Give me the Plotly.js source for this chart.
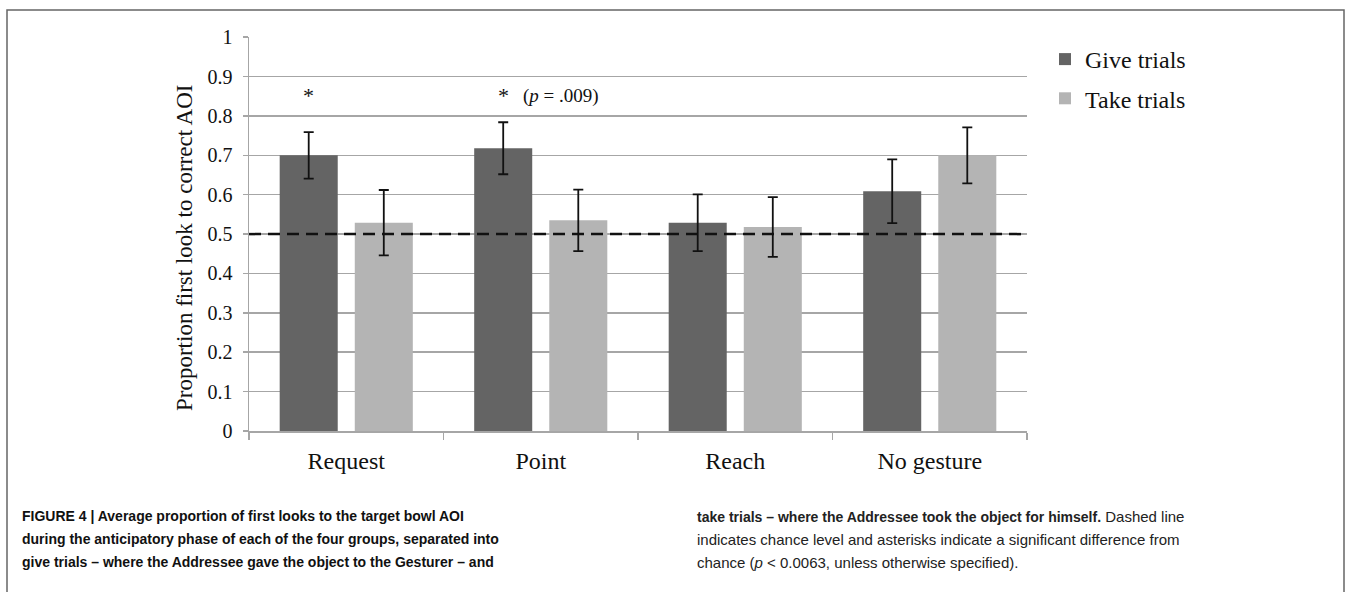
<!DOCTYPE html>
<html>
<head>
<meta charset="utf-8">
<script src="https://cdn.plot.ly/plotly-3.0.1.min.js"></script>
<style>
  html, body { margin: 0; padding: 0; background: #fff; }
  #chart { width: 1350px; height: 592px; }
</style>
</head>
<body>
<div id="chart"></div>
<script>
// ---- data ----
const categories = ["Request", "Point", "Reach", "No gesture"];
const giveValues = [0.700, 0.718, 0.529, 0.609];
const giveErrors = [0.059, 0.066, 0.072, 0.081];
const takeValues = [0.529, 0.535, 0.518, 0.700];
const takeErrors = [0.083, 0.078, 0.076, 0.071];
const seriesNames = ["Give trials", "Take trials"];
const yTickValues = [0, 0.1, 0.2, 0.3, 0.4, 0.5, 0.6, 0.7, 0.8, 0.9, 1];
const yTickLabels = ["0", "0.1", "0.2", "0.3", "0.4", "0.5", "0.6", "0.7", "0.8", "0.9", "1"];
const chanceLevel = 0.5;
const yTitle = "Proportion first look to correct AOI";
const captionLeft = [
  "<b>FIGURE 4 | Average proportion of first looks to the target bowl AOI</b>",
  "<b>during the anticipatory phase of each of the four groups, separated into</b>",
  "<b>give trials – where the Addressee gave the object to the Gesturer – and</b>"
];
const captionRight = [
  "<b><span style=\"font-size:14px\">take trials – where the Addressee took the object for himself.</span></b> Dashed line",
  "indicates chance level and asterisks indicate a significant difference from",
  "chance (<i>p</i> < 0.0063, unless otherwise specified)."
];

// ---- layout geometry (pixels) ----
const W = 1350, H = 592;
const L = 249, R = 323, T = 37, B = 161;
const pw = W - L - R, ph = H - T - B;
const px2x = p => (p - L) / pw;
const py2y = p => (H - B - p) / ph;

const serif = "Liberation Serif, Times New Roman, serif";
const sans = "Liberation Sans, Arial, Helvetica, sans-serif";
const gridCol = "#a6a6a6";

const traces = [
  {
    type: "bar", name: seriesNames[0], x: categories, y: giveValues,
    marker: { color: "#646464" },
    error_y: { type: "data", array: giveErrors, visible: true, color: "#111", thickness: 1.8, width: 5 },
    legendgroup: "g", hoverinfo: "y"
  },
  {
    type: "bar", name: seriesNames[1], x: categories, y: takeValues,
    marker: { color: "#b4b4b4" },
    error_y: { type: "data", array: takeErrors, visible: true, color: "#111", thickness: 1.8, width: 5 },
    legendgroup: "t", hoverinfo: "y"
  }
];

const annotations = [];
// y axis title
annotations.push({
  xref: "paper", yref: "paper", x: px2x(184), y: py2y(248), text: yTitle,
  textangle: -90, showarrow: false, xanchor: "center", yanchor: "middle",
  font: { family: serif, size: 23, color: "#111" }
});
// asterisks
const slotShift = 37.5 / (pw / categories.length);
annotations.push({ xref: "x", yref: "y", x: 0 - slotShift, y: py2y(95), text: "*", showarrow: false,
  font: { family: serif, size: 22, color: "#111" } });
annotations.push({ xref: "x", yref: "y", x: 1 - slotShift, y: py2y(95), text: "*", showarrow: false,
  font: { family: serif, size: 22, color: "#111" } });
annotations.push({ xref: "x", yref: "y", x: 1 - slotShift + 18 / (pw / 4), y: py2y(96), text: "(<i>p</i> = .009)",
  showarrow: false, xanchor: "left", font: { family: serif, size: 19, color: "#111" } });
// caption
const capY = [516, 539, 562];
captionLeft.forEach((t, i) => annotations.push({
  xref: "paper", yref: "paper", x: px2x(20), y: py2y(capY[i]), text: t, showarrow: false,
  xanchor: "left", yanchor: "middle", font: { family: sans, size: 14, color: "#111" }
}));
captionRight.forEach((t, i) => annotations.push({
  xref: "paper", yref: "paper", x: px2x(695), y: py2y(capY[i]), text: t, showarrow: false,
  xanchor: "left", yanchor: "middle", font: { family: sans, size: 15, color: "#222" }
}));

const shapes = [
  { type: "line", xref: "paper", yref: "y", x0: 0, x1: 1, y0: chanceLevel, y1: chanceLevel,
    line: { color: "#111", width: 2.5, dash: "12px,7px" } },
  { type: "rect", xref: "paper", yref: "paper", x0: px2x(7), x1: px2x(1344), y0: py2y(10), y1: py2y(620),
    line: { color: "#666", width: 1.5 }, fillcolor: "rgba(0,0,0,0)", layer: "below" }
];

const layout = {
  width: W, height: H,
  margin: { l: L, r: R, t: T, b: B, pad: 0 },
  paper_bgcolor: "#fff", plot_bgcolor: "#fff",
  barmode: "group", bargap: 0.228, bargroupgap: 0.227,
  showlegend: true,
  legend: {
    x: px2x(1045), y: py2y(37), xanchor: "left", yanchor: "top",
    font: { family: serif, size: 24, color: "#111" },
    traceorder: "grouped", tracegroupgap: 5, itemwidth: 30, bgcolor: "rgba(0,0,0,0)"
  },
  xaxis: {
    type: "category", tickson: "boundaries", ticks: "outside", ticklen: 7, tickwidth: 1.5, tickcolor: gridCol,
    showline: true, linecolor: gridCol, linewidth: 1.5, showgrid: false, zeroline: false,
    tickfont: { family: serif, size: 24, color: "#111" }, ticklabelstandoff: 8
  },
  yaxis: {
    range: [0, 1.0005], tickvals: yTickValues, ticktext: yTickLabels, ticks: "outside", ticklen: 5,
    tickwidth: 1.5, tickcolor: gridCol, showline: true, linecolor: gridCol, linewidth: 1.5,
    showgrid: true, gridcolor: gridCol, gridwidth: 1.5, zeroline: false,
    tickfont: { family: serif, size: 20, color: "#111" }, ticklabelstandoff: 6
  },
  annotations: annotations,
  shapes: shapes
};

Plotly.newPlot("chart", traces, layout, { displayModeBar: false, staticPlot: true });
</script>
</body>
</html>
